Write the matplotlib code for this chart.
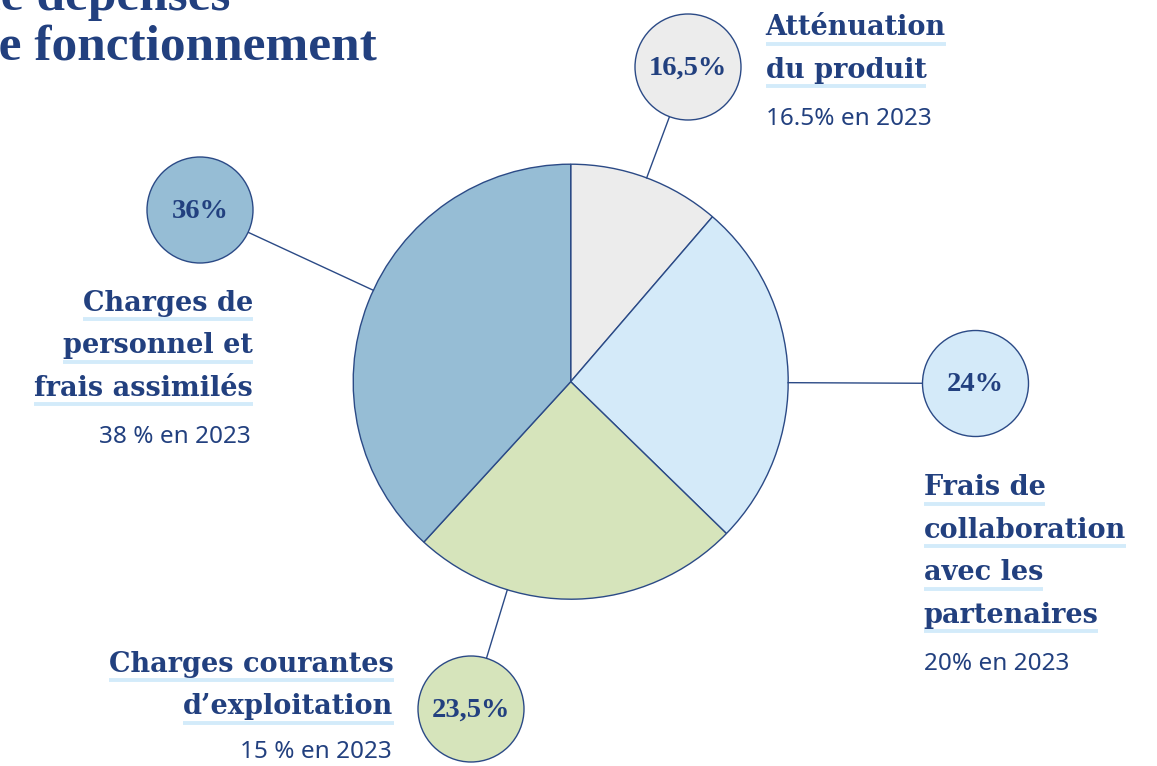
import matplotlib
matplotlib.use('Agg')
import matplotlib.pyplot as plt
from matplotlib.patches import Circle
import numpy as np

# Data
categories = ['Atténuation du produit', 'Frais de collaboration avec les partenaires',
              "Charges courantes d'exploitation", 'Charges de personnel et frais assimilés']
wedge_share = [11.3, 26.0, 24.5, 38.2]   # shares as drawn in the pie
pct_labels = ['16,5%', '24%', '23,5%', '36%']
prev_labels = ['16.5% en 2023', '20% en 2023', '15 % en 2023', '38 % en 2023']
label_lines = [['Atténuation', 'du produit'],
               ['Frais de', 'collaboration', 'avec les', 'partenaires'],
               ['Charges courantes', 'd\u2019exploitation'],
               ['Charges de', 'personnel et', 'frais assimilés']]
colors = ['#ececec', '#d4eaf9', '#d6e4bb', '#96bdd5']

navy = '#22407f'
edge = '#2b4a86'
uline = '#d3ebfa'

W, H = 1157, 766
fig = plt.figure(figsize=(W / 100, H / 100), dpi=100)
ax = fig.add_axes([0, 0, 1, 1])

# pie (y axis inverted later, so angles run clockwise on screen)
cx, cy, R = 570.7, 381.7, 217.5
ax.pie(wedge_share, colors=colors, startangle=-90, counterclock=True,
       center=(cx, cy), radius=R,
       wedgeprops=dict(edgecolor=edge, linewidth=1.0))
ax.set_xlim(0, W)
ax.set_ylim(H, 0)
ax.set_aspect('equal')
ax.axis('off')

# callout circles
circ_pos = [(688, 67), (975.5, 383.5), (471, 709), (200, 210)]
rc = 53
for (px, py), col, lab in zip(circ_pos, colors, pct_labels):
    d = np.hypot(px - cx, py - cy)
    ux, uy = (px - cx) / d, (py - cy) / d
    ax.plot([cx + ux * R, px - ux * rc], [cy + uy * R, py - uy * rc],
            color=edge, lw=1.0, zorder=3)
    ax.add_patch(Circle((px, py), rc, facecolor=col, edgecolor=edge, lw=1.0, zorder=4))
    ax.text(px, py + 1, lab, ha='center', va='center', color=navy, zorder=5,
            fontsize=20.5, fontweight='bold', family='Liberation Serif')

# category labels: (x, first baseline, align, sub-label baseline)
lab_pos = [(765.5, 35, 'left', 125),
           (923.5, 495, 'left', 670.5),
           (393.5, 671.7, 'right', 758),
           (253, 310.7, 'right', 443)]
step = 42.6
texts = []
for (x, y0, ha, ysub), lines, prev in zip(lab_pos, label_lines, prev_labels):
    for i, ln in enumerate(lines):
        y = y0 + i * step
        t = ax.text(x, y, ln, ha=ha, va='baseline', color=navy, zorder=5,
                    fontsize=19.5, fontweight='bold', family='DejaVu Serif')
        texts.append((t, y))
    ax.text(x if ha == 'left' else x - 2, ysub, prev, ha=ha, va='baseline', color=navy,
            fontsize=17.5, family='Noto Sans')

# title (cut by the page edge, as in the source)
ax.text(377, 59, 'de fonctionnement', ha='right', va='baseline', color=navy,
        fontsize=37, fontweight='bold', family='Liberation Serif')
ax.text(230, 10, 'de dépenses', ha='right', va='baseline', color=navy,
        fontsize=37, fontweight='bold', family='Liberation Serif')

# light underline under each bold label line
fig.canvas.draw()
rend = fig.canvas.get_renderer()
for t, y in texts:
    bb = t.get_window_extent(rend)
    ax.plot([bb.x0, bb.x1], [y + 8.5, y + 8.5], color=uline, lw=2.8,
            solid_capstyle='butt', zorder=4)

fig.savefig('out.png', dpi=100)
